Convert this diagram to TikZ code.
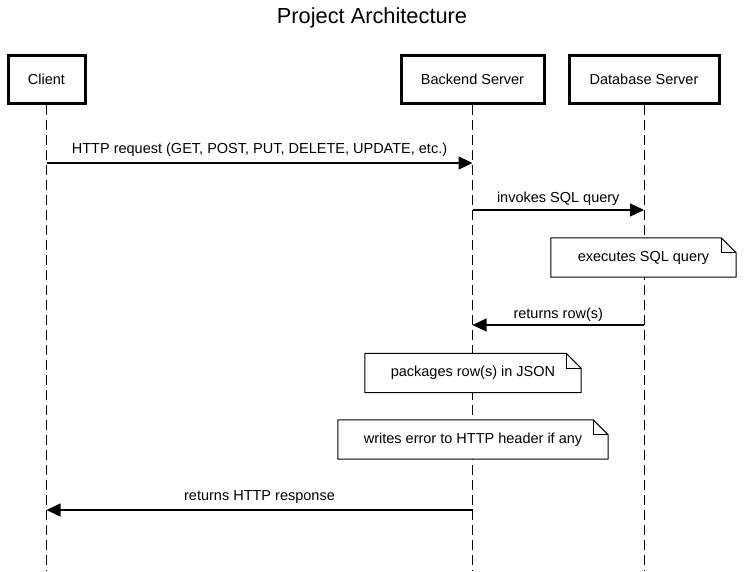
\documentclass[tikz,border=0pt]{standalone}
\usepackage{fontspec}
\setmainfont{Liberation Sans}
\usetikzlibrary{arrows.meta}
\begin{document}
\begin{tikzpicture}[x=1pt,y=-1pt,
  actor/.style={draw, line width=3pt, minimum height=48pt, font=\fontsize{14.5}{17}\selectfont, inner sep=0pt},
  life/.style={line width=1pt, dash pattern=on 10pt off 5pt},
  msg/.style={line width=1.2pt, -{Triangle[length=14pt,width=13pt]}},
  lbl/.style={font=\fontsize{14.5}{17}\selectfont, inner sep=0pt},
  notebox/.style={fill=white, minimum height=39pt, inner sep=0pt, font=\fontsize{14.5}{17}\selectfont},
  noteline/.style={line width=1pt}]
\useasboundingbox (0,0) rectangle (745,571);
\node[font=\fontsize{21.8}{26}\selectfont, inner sep=0pt] (title) at (372,18) {Project Architecture};
% actors
\node[actor, minimum width=77pt] (client) at (46.5,79.5) {Client};
\node[actor, minimum width=143pt] (backend) at (472.5,79.5) {Backend Server};
\node[actor, minimum width=150pt] (db) at (644,79.5) {Database Server};
% lifeline ends
\coordinate (clientEnd) at (46.5,571);
\coordinate (backendEnd) at (472.5,571);
\coordinate (dbEnd) at (644,571);
\draw[life] (client.south) -- (clientEnd);
\draw[life] (backend.south) -- (backendEnd);
\draw[life] (db.south) -- (dbEnd);
% messages
\coordinate (m1a) at (46.5,163);
\coordinate (m1b) at (472.5,163);
\draw[msg] (m1a) -- (m1b) node[lbl, midway, yshift=13pt] (l1) {HTTP request (GET, POST, PUT, DELETE, UPDATE, etc.)};
\coordinate (m2a) at (472.5,210);
\coordinate (m2b) at (644,210);
\draw[msg] (m2a) -- (m2b) node[lbl, midway, yshift=11pt] (l2) {invokes SQL query};
\coordinate (m3a) at (644,325);
\coordinate (m3b) at (472.5,325);
\draw[msg] (m3a) -- (m3b) node[lbl, midway, yshift=10pt] (l3) {returns row(s)};
\coordinate (m4a) at (472.5,510);
\coordinate (m4b) at (46.5,510);
\draw[msg] (m4a) -- (m4b) node[lbl, midway, yshift=13pt] (l4) {returns HTTP response};
% notes
\node[notebox, minimum width=185pt] (n1) at (643.5,257.5) {executes SQL query};
\node[notebox, minimum width=216pt] (n2) at (473,373) {packages row(s) in JSON};
\node[notebox, minimum width=270pt] (n3) at (473,439.5) {writes error to HTTP header if any};
\foreach \n in {n1,n2,n3}{
  \draw[noteline] (\n.south west) -- (\n.north west) -- ([xshift=-15pt]\n.north east) -- ([yshift=-15pt]\n.north east) -- (\n.south east) -- cycle;
  \draw[noteline] ([xshift=-15pt]\n.north east) |- ([yshift=-15pt]\n.north east);
}
\end{tikzpicture}
\end{document}
